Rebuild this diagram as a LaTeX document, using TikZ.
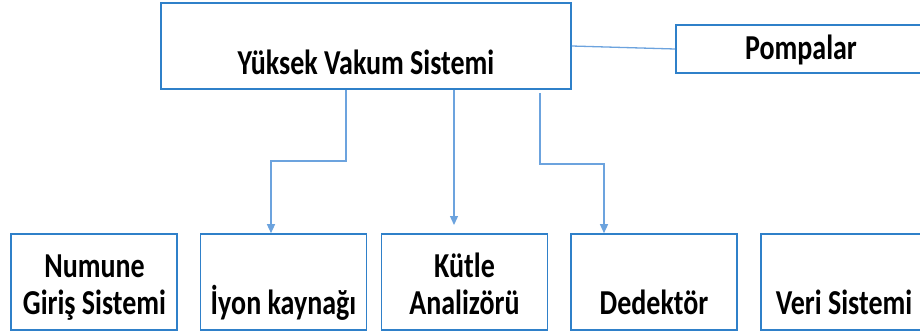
\documentclass[tikz,border=0pt]{standalone}
\usepackage{fontspec}
\setmainfont{Carlito}[FakeStretch=0.8]
\usetikzlibrary{arrows.meta}
\definecolor{boxblue}{RGB}{47,128,201}
\definecolor{linkblue}{RGB}{108,163,222}
\tikzset{
  unit/.style={draw=boxblue, line width=1.6pt, minimum width=166pt, minimum height=96pt, inner sep=0pt},
  caption/.style={font=\fontsize{35}{37}\selectfont\bfseries, anchor=base, align=center, inner sep=0pt},
  link/.style={draw=linkblue, line width=1.3pt},
  tip/.style={-{Triangle[width=8pt,length=9pt]}},
}
\begin{document}
\begin{tikzpicture}[x=1pt,y=-1pt]
      \useasboundingbox (0,0) rectangle (920,335);
      \draw
        (366,46) node[unit, minimum width=410pt, minimum height=86pt] (hv){}
        (804,49) node[unit, minimum width=256pt, minimum height=48pt] (pump){}
        (94,282) node[unit] (inlet){}
        (283.5,282) node[unit] (ion){}
        (464.5,282) node[unit] (mass){}
        (654,282) node[unit] (det){}
        (845,282) node[unit, minimum width=168pt] (data){};
      \draw
        (366,74) node[caption] (hvtext){Yüksek Vakum Sistemi}
        (801,59) node[caption] (pumptext){Pompalar}
        (94.5,314) node[caption] (inlettext){Numune\\Giriş Sistemi}
        (283.5,314) node[caption] (iontext){İyon kaynağı}
        (464.5,314) node[caption] (masstext){Kütle\\Analizörü}
        (654,314) node[caption] (dettext){Dedektör}
        (844,314) node[caption] (datatext){Veri Sistemi};
      \coordinate (k1) at (346,161);
      \coordinate (k2) at (271,161);
      \coordinate (k3) at (454,225);
      \coordinate (k4) at (540,93);
      \coordinate (k5) at (540,164);
      \coordinate (k6) at (604,164);
      \begin{scope}[link]
        \draw (hv.east) to (pump.west);
        \draw[tip] (hv.south -| k1) -- (k1) -- (k2) -- (k2 |- ion.north);
        \draw[tip] (hv.south -| k3) -- (k3);
        \draw[tip] (k4) -- (k5) -- (k6) -- (k6 |- det.north);
      \end{scope}
    \end{tikzpicture}
\end{document}
